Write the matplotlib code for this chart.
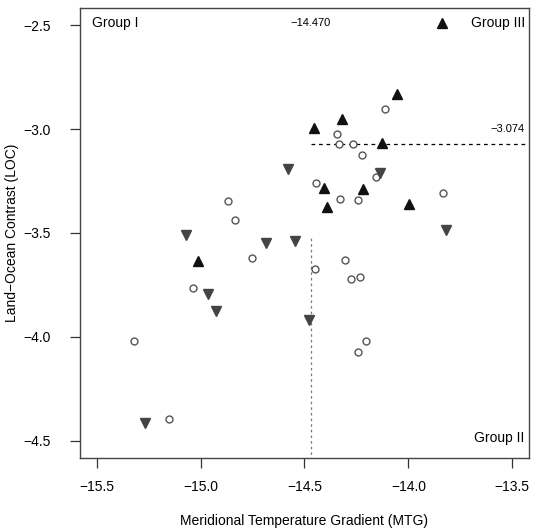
import matplotlib.pyplot as plt

# datos leidos del grafico original
# grupo de circulos abiertos
circ_x = [-14.114, -14.343, -14.333, -14.266, -14.221, -14.156, -14.445, -14.329, -14.244, -14.868, -13.834,
          -14.833, -14.751, -14.303, -14.447, -14.274, -14.235, -15.036, -15.319, -14.242, -14.205, -15.152]
circ_y = [-2.902, -3.023, -3.074, -3.074, -3.123, -3.232, -3.258, -3.335, -3.341, -3.345, -3.306,
          -3.439, -3.622, -3.631, -3.673, -3.721, -3.710, -3.766, -4.021, -4.071, -4.021, -4.396]

# triangulos hacia arriba (negros)
up_x = [-14.055, -14.320, -14.455, -14.128, -14.407, -14.220, -14.390, -13.999, -15.010]
up_y = [-2.833, -2.952, -2.994, -3.066, -3.282, -3.288, -3.376, -3.361, -3.635]

# triangulos hacia abajo (gris oscuro)
down_x = [-14.580, -14.135, -13.821, -15.071, -14.684, -14.548, -14.964, -14.927, -14.480, -15.266]
down_y = [-3.192, -3.210, -3.487, -3.511, -3.550, -3.538, -3.795, -3.875, -3.920, -4.413]

# umbrales
mtg_umbral = -14.470
loc_umbral = -3.074

x_ticks = [-15.5, -15.0, -14.5, -14.0, -13.5]
y_ticks = [-2.5, -3.0, -3.5, -4.0, -4.5]

plt.rcParams['font.family'] = ['Liberation Sans', 'DejaVu Sans']

fig = plt.figure(figsize=(5.37, 5.29), dpi=100)
ax = fig.add_axes([0.149, 0.134, 0.836, 0.850])

# lineas punteadas de los umbrales
ax.plot([mtg_umbral, -13.42], [loc_umbral, loc_umbral], color='black', linestyle=(0, (3, 3)), linewidth=0.9)
ax.plot([mtg_umbral, mtg_umbral], [-4.59, -3.52], color='#777777', linestyle=(0, (2, 2.5)), linewidth=0.9)

# puntos
ax.plot(circ_x, circ_y, linestyle='none', marker='o', markersize=5, markerfacecolor='white',
        markeredgecolor='#555555', markeredgewidth=1.0)
ax.plot(up_x, up_y, linestyle='none', marker='^', markersize=7, color='#111111')
ax.plot(down_x, down_y, linestyle='none', marker='v', markersize=7, color='#444444')

# textos dentro del grafico
ax.text(-15.52, -2.49, 'Group I', fontsize=10, ha='left', va='center')
ax.text(-13.44, -2.49, 'Group III', fontsize=10, ha='right', va='center')
ax.plot([-13.84], [-2.49], linestyle='none', marker='^', markersize=6.5, color='#111111')
ax.text(-13.44, -4.485, 'Group II', fontsize=10, ha='right', va='center')
ax.text(mtg_umbral, -2.49, '\u221214.470', fontsize=8, ha='center', va='center')
ax.text(-13.44, -3.0, '\u22123.074', fontsize=8, ha='right', va='center')

ax.set_xlim(-15.58, -13.42)
ax.set_ylim(-4.583, -2.42)
ax.set_xticks(x_ticks)
ax.set_yticks(y_ticks)
ax.set_xticklabels(['\u2212%.1f' % abs(v) for v in x_ticks])
ax.set_yticklabels(['\u2212%.1f' % abs(v) for v in y_ticks])
ax.tick_params(axis='both', direction='out', length=7, width=0.9, color='#333333', labelsize=10)
ax.tick_params(axis='y', pad=14)
ax.tick_params(axis='x', pad=9)
for s in ax.spines.values():
    s.set_color('#444444')
    s.set_linewidth(1.0)

ax.set_xlabel('Meridional Temperature Gradient (MTG)', fontsize=10, labelpad=14)
ax.set_ylabel('Land\u2212Ocean Contrast (LOC)', fontsize=10)
ax.yaxis.set_label_coords(-0.137, 0.5)

fig.savefig('out.png', dpi=100)
